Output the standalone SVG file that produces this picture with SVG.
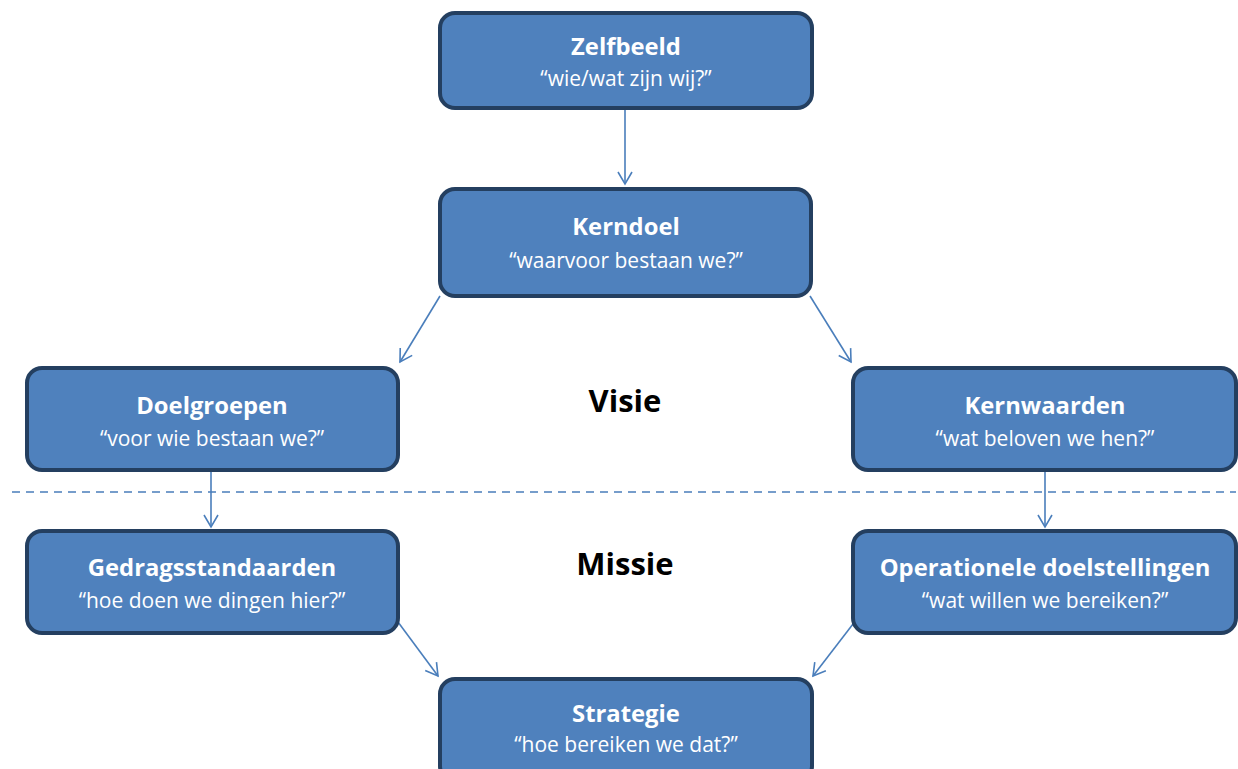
<svg xmlns="http://www.w3.org/2000/svg" width="1238" height="769" viewBox="0 0 1238 769">
<defs>
<style>
.box{fill:#4f81bd;stroke:#243f60;stroke-width:4}
.t{font-family:"Open Sans","Liberation Sans",sans-serif;fill:#fff;text-anchor:middle}
.h{font-size:23.8px;font-weight:bold}
.s{font-size:21px}
.c{stroke:#4a7ebb;stroke-width:1.6;fill:none}
.lbl{font-family:"Open Sans","Liberation Sans",sans-serif;font-weight:bold;font-size:31px;fill:#000;text-anchor:middle}
</style>
<marker id="ah" markerWidth="20" markerHeight="20" refX="14" refY="8" orient="auto" markerUnits="userSpaceOnUse">
<path d="M2,1 L14,8 L2,15" fill="none" stroke="#4a7ebb" stroke-width="1.6"/>
</marker>
</defs>
<rect width="1238" height="769" fill="#fff"/>
<g id="connectors">
<line class="c" x1="625" y1="108" x2="625" y2="184" marker-end="url(#ah)"/>
<line class="c" x1="440" y1="296" x2="400" y2="362" marker-end="url(#ah)"/>
<line class="c" x1="810" y1="296" x2="851" y2="362" marker-end="url(#ah)"/>
<line class="c" x1="211" y1="470" x2="211" y2="527" marker-end="url(#ah)"/>
<line class="c" x1="1045" y1="470" x2="1045" y2="527" marker-end="url(#ah)"/>
<line class="c" x1="398" y1="622" x2="438" y2="676" marker-end="url(#ah)"/>
<line class="c" x1="853" y1="624" x2="813" y2="676" marker-end="url(#ah)"/>
<line x1="12" y1="492" x2="1236" y2="492" stroke="#4a7ebb" stroke-width="1.6" stroke-dasharray="8,6"/>
</g>
<g id="zelfbeeld"><rect class="box" x="440" y="13" width="372" height="95" rx="15"/>
<text class="t h" x="626" y="55">Zelfbeeld</text><text class="t s" x="626" y="86">“wie/wat zijn wij?”</text></g>
<g id="kerndoel"><rect class="box" x="440" y="189" width="371" height="107" rx="15"/>
<text class="t h" x="626" y="235">Kerndoel</text><text class="t s" x="626" y="268">“waarvoor bestaan we?”</text></g>
<g id="doelgroepen"><rect class="box" x="27" y="368" width="371" height="102" rx="15"/>
<text class="t h" x="212" y="414">Doelgroepen</text><text class="t s" x="212" y="446">“voor wie bestaan we?”</text></g>
<g id="kernwaarden"><rect class="box" x="853" y="368" width="383" height="102" rx="15"/>
<text class="t h" x="1045" y="414">Kernwaarden</text><text class="t s" x="1045" y="446">“wat beloven we hen?”</text></g>
<g id="gedragsstandaarden"><rect class="box" x="27" y="531" width="371" height="102" rx="15"/>
<text class="t h" x="212" y="576">Gedragsstandaarden</text><text class="t s" x="212" y="608">“hoe doen we dingen hier?”</text></g>
<g id="operationele"><rect class="box" x="853" y="531" width="383" height="102" rx="15"/>
<text class="t h" x="1045" y="576">Operationele doelstellingen</text><text class="t s" x="1045" y="608">“wat willen we bereiken?”</text></g>
<g id="strategie"><rect class="box" x="440" y="679" width="372" height="102" rx="15"/>
<text class="t h" x="626" y="722">Strategie</text><text class="t s" x="626" y="752">“hoe bereiken we dat?”</text></g>
<g id="labels">
<text class="lbl" x="625" y="412">Visie</text>
<text class="lbl" x="625" y="575">Missie</text>
</g>
</svg>
